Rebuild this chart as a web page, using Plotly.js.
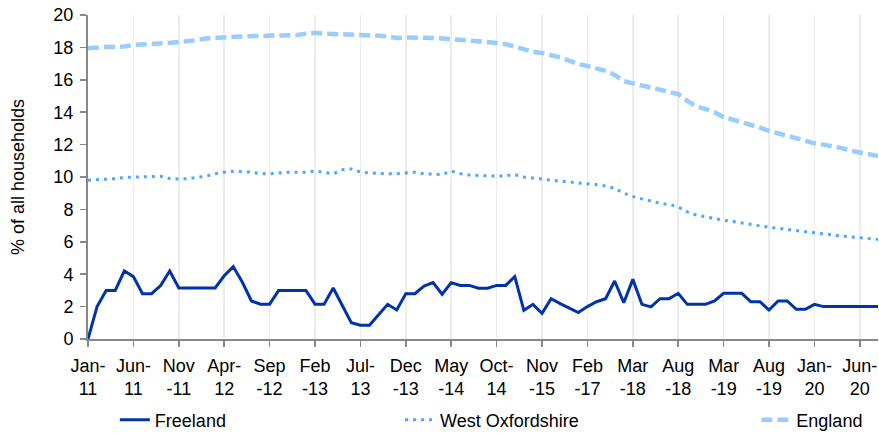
<!DOCTYPE html>
<html>
<head>
<meta charset="utf-8">
<script src="https://cdn.plot.ly/plotly-3.0.1.min.js"></script>
<style>html,body{margin:0;padding:0;background:#fff;}#chart{width:879px;height:433px;}</style>
</head>
<body>
<div id="chart"></div>
<script>
// Category labels (one per data point; every 5th one is shown on the axis)
const categories = [
  "Jan-11","Feb-11","Mar-11","Apr-11","May-11","Jun-11","Jul-11","Aug-11","Sep-11","Oct-11",
  "Nov-11","Dec-11","Jan-12","Feb-12","Mar-12","Apr-12","May-12","Jun-12","Jul-12","Aug-12",
  "Sep-12","Oct-12","Nov-12","Dec-12","Jan-13","Feb-13","Mar-13","Apr-13","May-13","Jun-13",
  "Jul-13","Aug-13","Sep-13","Oct-13","Nov-13","Dec-13","Jan-14","Feb-14","Mar-14","Apr-14",
  "May-14","Jun-14","Jul-14","Aug-14","Sep-14","Oct-14","Jan-15","Apr-15","Jul-15","Sep-15",
  "Nov-15","Feb-16","May-16","Aug-16","Nov-16","Feb-17","May-17","Aug-17","Nov-17","Jan-18",
  "Mar-18","Apr-18","May-18","Jun-18","Jul-18","Aug-18","Sep-18","Oct-18","Nov-18","Jan-19",
  "Mar-19","Apr-19","May-19","Jun-19","Jul-19","Aug-19","Sep-19","Oct-19","Nov-19","Dec-19",
  "Jan-20","Feb-20","Mar-20","Apr-20","May-20","Jun-20","Jul-20","Aug-20"
];

const tickCategories = ["Jan-11","Jun-11","Nov-11","Apr-12","Sep-12","Feb-13","Jul-13","Dec-13","May-14",
  "Oct-14","Nov-15","Feb-17","Mar-18","Aug-18","Mar-19","Aug-19","Jan-20","Jun-20"];
const tickLabels = ["Jan-<br>11","Jun-<br>11","Nov<br>-11","Apr-<br>12","Sep<br>-12","Feb<br>-13","Jul-<br>13",
  "Dec<br>-13","May<br>-14","Oct-<br>14","Nov<br>-15","Feb<br>-17","Mar<br>-18","Aug<br>-18","Mar<br>-19",
  "Aug<br>-19","Jan-<br>20","Jun-<br>20"];

const freeland = [
  0, 2.0, 3.0, 3.0, 4.2, 3.85, 2.8, 2.8, 3.3, 4.2,
  3.15, 3.15, 3.15, 3.15, 3.15, 3.9, 4.47, 3.5, 2.35, 2.15,
  2.15, 3.0, 3.0, 3.0, 3.0, 2.15, 2.15, 3.15, 2.1, 1.0,
  0.85, 0.85, 1.5, 2.14, 1.79, 2.8, 2.8, 3.27, 3.48, 2.76,
  3.48, 3.31, 3.31, 3.13, 3.13, 3.31, 3.31, 3.85, 1.77, 2.14,
  1.58, 2.49, 2.18, 1.89, 1.63, 2.0, 2.3, 2.49, 3.58, 2.24,
  3.68, 2.14, 1.98, 2.49, 2.49, 2.82, 2.14, 2.14, 2.14, 2.35,
  2.82, 2.82, 2.82, 2.3, 2.3, 1.79, 2.35, 2.35, 1.83, 1.83,
  2.14, 2.0, 2.0, 2.0, 2.0, 2.0, 2.0, 2.0
];

const westOxfordshire = [
  9.8, 9.82, 9.85, 9.9, 9.97, 10.0, 10.0, 10.05, 10.05, 9.9,
  9.87, 9.9, 9.97, 10.05, 10.2, 10.3, 10.35, 10.33, 10.3, 10.2,
  10.2, 10.25, 10.3, 10.3, 10.3, 10.37, 10.3, 10.2, 10.45, 10.5,
  10.3, 10.25, 10.22, 10.2, 10.2, 10.25, 10.3, 10.2, 10.18, 10.15,
  10.37, 10.2, 10.12, 10.1, 10.08, 10.05, 10.08, 10.15, 10.0, 9.95,
  9.87, 9.8, 9.75, 9.7, 9.63, 9.6, 9.53, 9.45, 9.3, 9.0,
  8.8, 8.65, 8.5, 8.38, 8.3, 8.15, 7.85, 7.65, 7.55, 7.42,
  7.33, 7.25, 7.15, 7.05, 6.98, 6.9, 6.83, 6.75, 6.67, 6.6,
  6.55, 6.48, 6.4, 6.35, 6.3, 6.23, 6.2, 6.15
];

const england = [
  17.94, 18.0, 18.04, 18.02, 18.05, 18.15, 18.18, 18.17, 18.22, 18.28,
  18.33, 18.37, 18.45, 18.55, 18.6, 18.62, 18.65, 18.68, 18.7, 18.72,
  18.74, 18.75, 18.76, 18.76, 18.85, 18.9, 18.85, 18.83, 18.85, 18.82,
  18.76, 18.74, 18.72, 18.68, 18.58, 18.62, 18.62, 18.62, 18.58, 18.55,
  18.52, 18.5, 18.45, 18.38, 18.33, 18.28, 18.2, 18.05, 17.85, 17.72,
  17.66, 17.55, 17.38, 17.18, 16.97, 16.85, 16.7, 16.55, 16.3, 15.92,
  15.78, 15.65, 15.52, 15.4, 15.28, 15.12, 14.7, 14.35, 14.2, 14.0,
  13.7, 13.55, 13.4, 13.22, 13.05, 12.85, 12.7, 12.55, 12.38, 12.2,
  12.08, 12.0, 11.9, 11.78, 11.62, 11.5, 11.4, 11.3
];

const FONT = "Liberation Sans, Arial, sans-serif";
const FS = 18;

const traces = [
  {x: categories, y: freeland, name: "Freeland", type: "scatter", mode: "lines",
   line: {color: "#0033A8", width: 3}, legend: "legend"},
  {x: categories, y: westOxfordshire, name: "West Oxfordshire", type: "scatter", mode: "lines",
   line: {color: "#4DA6FF", width: 3, dash: "3px,5px"}, legend: "legend2"},
  {x: categories, y: england, name: "England", type: "scatter", mode: "lines",
   line: {color: "#99CCFF", width: 4.5, dash: "11px,5px"}, legend: "legend3"}
];

const legendBase = {orientation: "h", yanchor: "middle", y: -0.25, xanchor: "left",
  font: {family: FONT, size: FS, color: "#000"}, bgcolor: "rgba(0,0,0,0)"};

const layout = {
  width: 879, height: 433,
  margin: {l: 88, r: 1, t: 15, b: 94, autoexpand: false},
  paper_bgcolor: "#fff", plot_bgcolor: "#fff",
  font: {family: FONT, size: FS, color: "#000"},
  xaxis: {
    type: "category",
    range: [0, categories.length - 1],
    tickmode: "array", tickvals: tickCategories, ticktext: tickLabels,
    ticks: "outside", ticklen: 6, tickwidth: 1.5, tickcolor: "#888",
    showline: true, linecolor: "#888", linewidth: 2,
    showgrid: true, gridcolor: "#ececec", gridwidth: 1.5,
    tickangle: 0, tickfont: {family: FONT, size: FS, color: "#000"},
    ticklabelstandoff: 3,
    automargin: false, fixedrange: true
  },
  yaxis: {
    range: [0, 20], dtick: 2, tick0: 0,
    ticks: "outside", ticklen: 6, tickwidth: 1.5, tickcolor: "#888",
    showline: true, linecolor: "#888", linewidth: 2,
    showgrid: false, zeroline: false,
    tickfont: {family: FONT, size: FS, color: "#000"},
    ticklabelstandoff: 3,
    title: {text: "% of all households", font: {family: FONT, size: FS, color: "#000"}, standoff: 24},
    automargin: false, fixedrange: true
  },
  showlegend: true,
  legend: Object.assign({}, legendBase, {x: 0.034}),
  legend2: Object.assign({}, legendBase, {x: 0.395}),
  legend3: Object.assign({}, legendBase, {x: 0.846})
};

Plotly.newPlot("chart", traces, layout, {displayModeBar: false, staticPlot: true});
</script>
</body>
</html>
